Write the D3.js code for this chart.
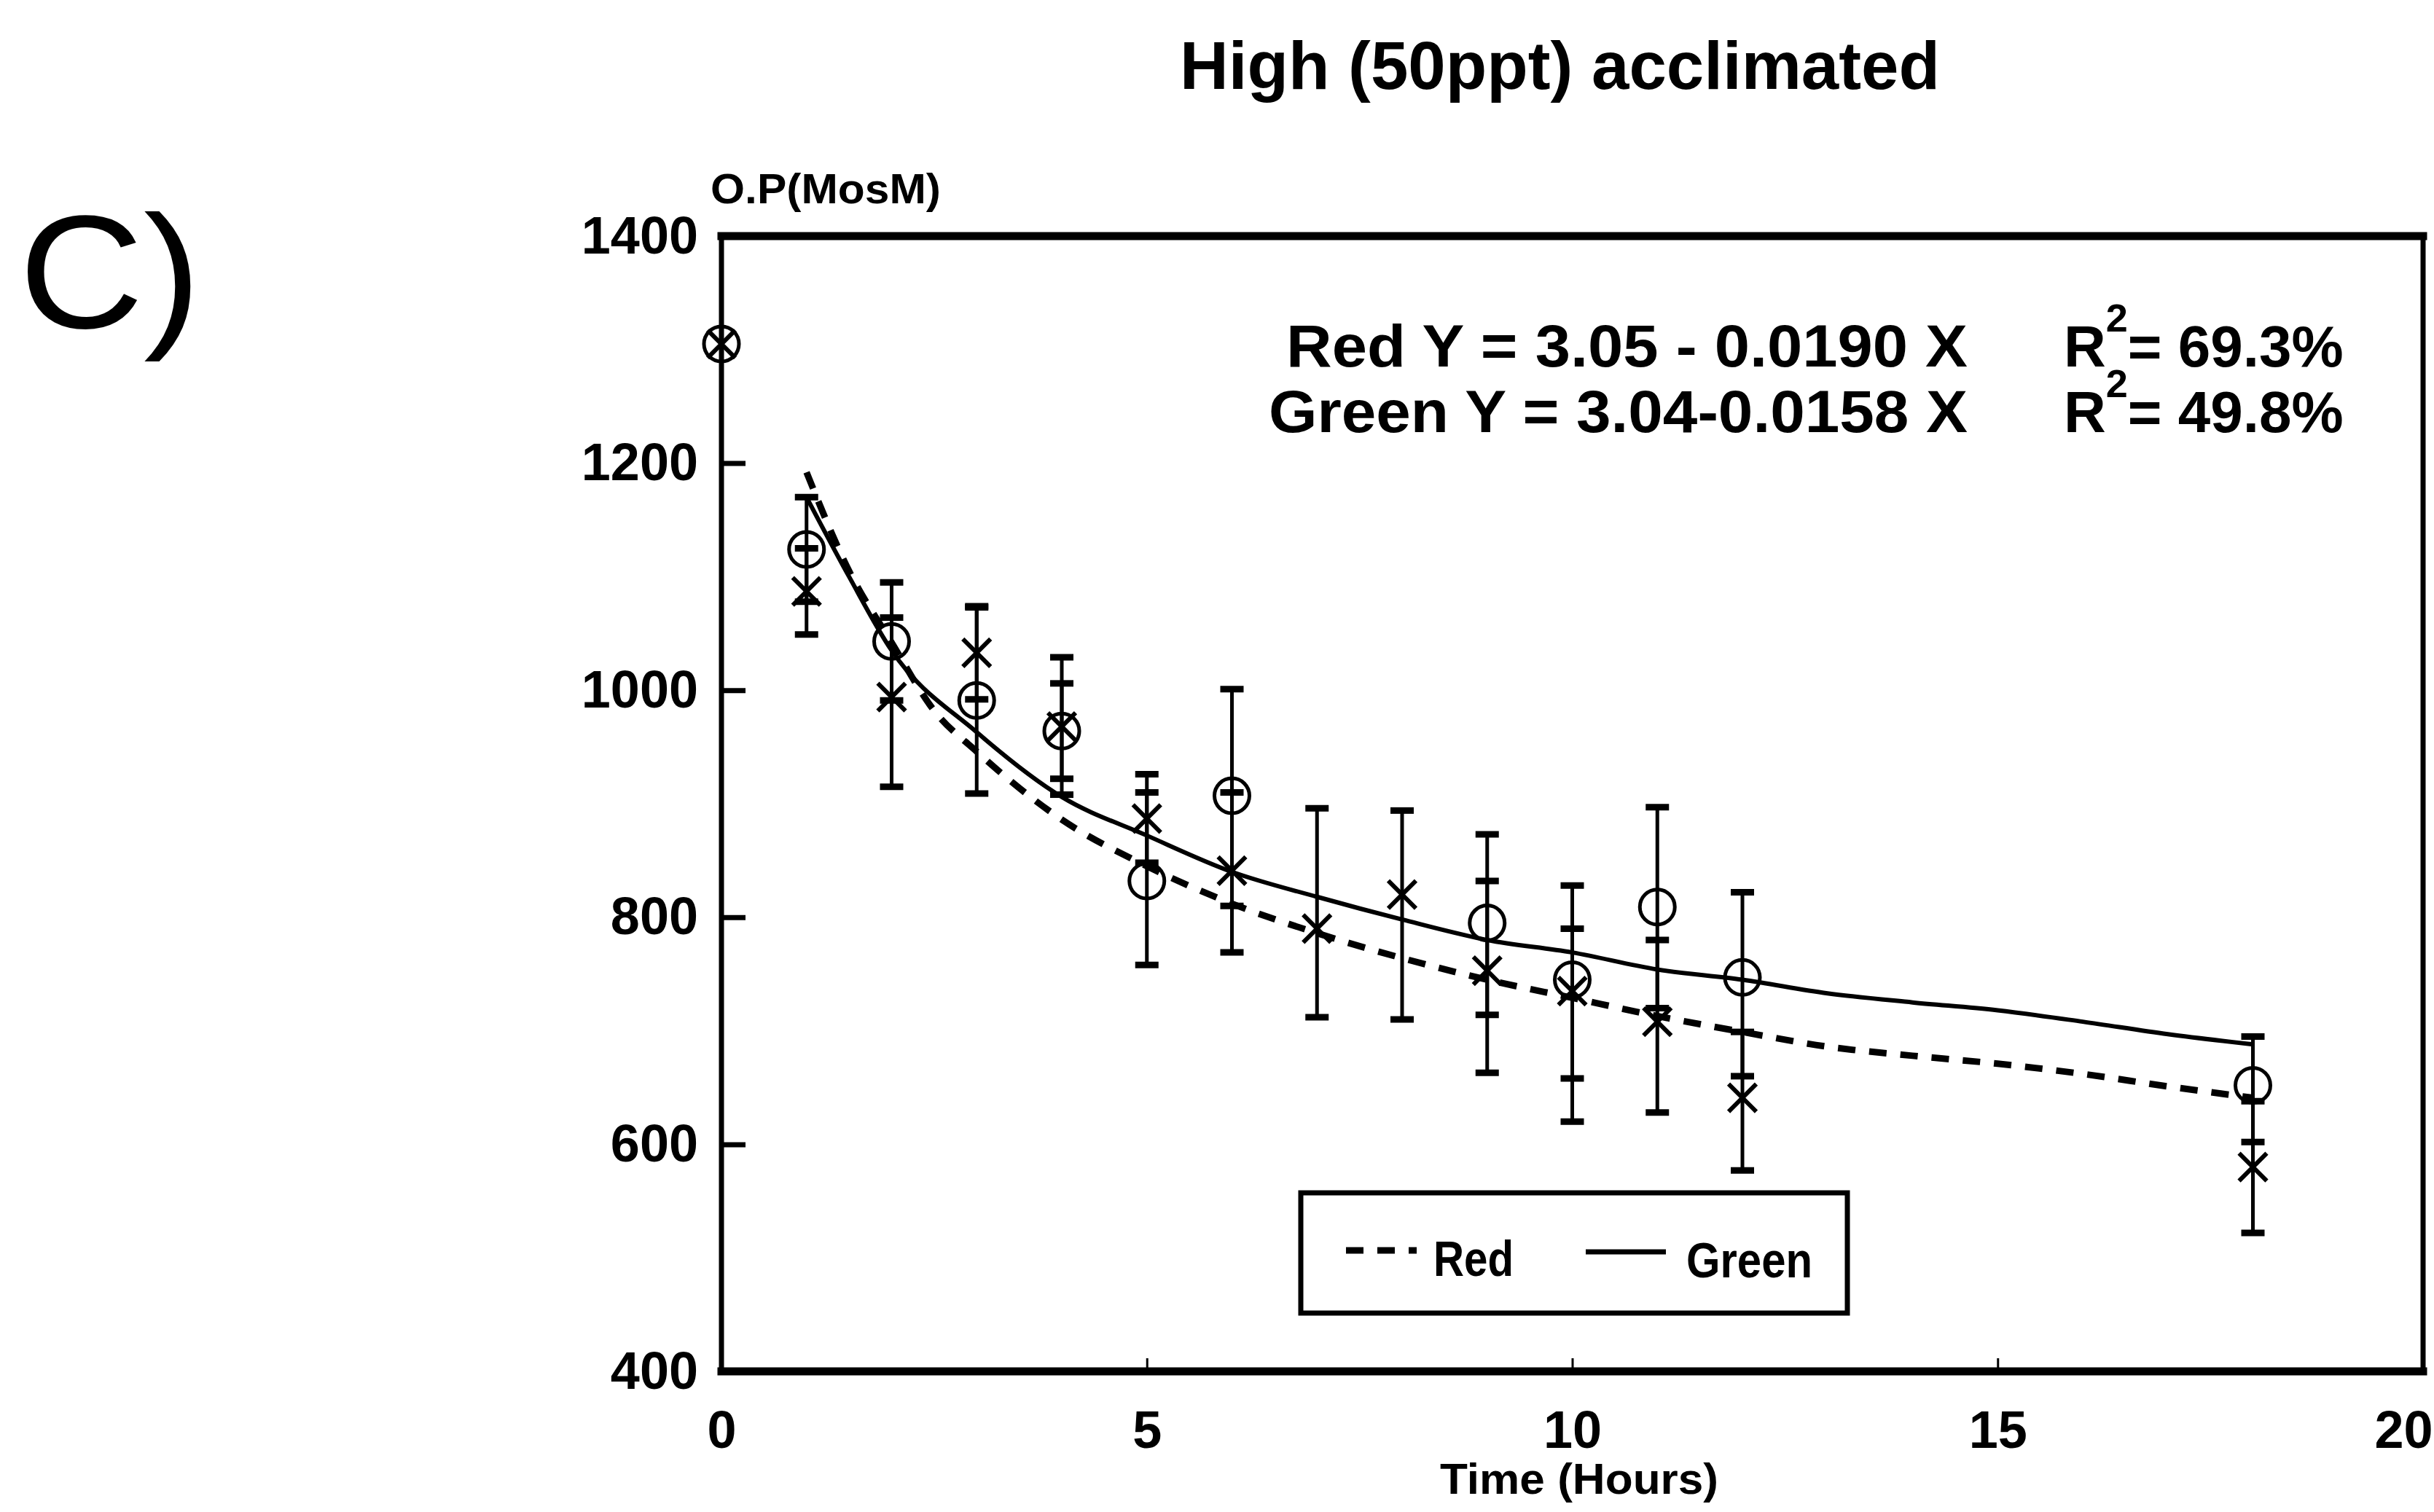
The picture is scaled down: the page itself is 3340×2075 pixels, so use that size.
<!DOCTYPE html>
<html>
<head>
<meta charset="utf-8">
<script src="https://cdn.jsdelivr.net/npm/d3@7/dist/d3.min.js"></script>
<style>
  html, body { margin: 0; padding: 0; background: #fff; }
  svg { display: block; }
  text { font-family: "Liberation Sans", Arial, Helvetica, sans-serif; fill: #000; }
</style>
</head>
<body>
<svg id="chart" width="3340" height="2075"></svg>
<script>
// Sampling times (hours)
const hours = [0, 1, 2, 3, 4, 5, 6, 7, 8, 9, 10, 11, 12, 18];

// Red group: mean osmotic pressure (mOsm) with error-bar limits
const redMean = [1305, 1087, 994, 1033, 968, 887, 841, 790, 820, 753, 735, 708, 641, 580];
const redLow  = [null, 1049, 915, 992, 908, 848, 769, 712, 710, 663, 620, 628, 577, 522];
const redHigh = [null, 1125, 1064, 1074, 1029, 926, 910, 896, 894, 832, 790, 780, 699, 638];

// Green group: mean osmotic pressure (mOsm) with error-bar limits
const greenMean = [1305, 1124, 1043, 991, 964, 832, 907, null, null, 795, 745, 809, 747, 652];
const greenLow  = [null, 1078, 991, 909, 922, 758, 810, null, null, 714, 658, 720, 660, 602];
const greenHigh = [null, 1170, 1095, 1073, 1006, 910, 1001, null, null, 873, 828, 897, 822, 695];

// Fitted regression curves
const redFitX   = [1, 1.5, 2, 2.5, 3, 4, 5, 6, 7, 8, 9, 10, 11, 12, 13, 14, 15, 16, 17, 18];
const redFitY   = [1192, 1105, 1042, 982, 946, 886, 845, 812, 786, 764, 745, 729, 713, 699, 686, 678, 671, 662, 651, 641];
const greenFitX = [1, 1.5, 2, 3, 4, 5, 6, 7, 8, 9, 10, 11, 12, 13, 14, 15, 16, 17, 18];
const greenFitY = [1170, 1100, 1035, 963, 906, 872, 840, 818, 798, 780, 769, 754, 745, 733, 725, 718, 708, 697, 688];

// Axis ticks
const xTicks = [0, 5, 10, 15, 20];
const yTicks = [400, 600, 800, 1000, 1200, 1400];

const W = 3340;
const svg = d3.select("#chart");
svg.append("rect").attr("width", W).attr("height", 2075).attr("fill", "#fff");

const x = d3.scaleLinear().domain([0, 20]).range([990, 3325]);
const y = d3.scaleLinear().domain([400, 1400]).range([1882, 324]);

// Panel letter and title
svg.append("text").attr("x", 26).attr("y", 450)
  .attr("font-size", 220).attr("font-weight", 400)
  .attr("textLength", 250).attr("lengthAdjust", "spacingAndGlyphs").text("C)");
svg.append("text").attr("x", 1619).attr("y", 122)
  .attr("font-size", 92).attr("font-weight", 700)
  .attr("textLength", 1043).attr("lengthAdjust", "spacingAndGlyphs")
  .text("High (50ppt) acclimated");

// Y axis label
svg.append("text").attr("x", 975).attr("y", 279)
  .attr("font-size", 58).attr("font-weight", 700)
  .attr("textLength", 316).attr("lengthAdjust", "spacingAndGlyphs")
  .text("O.P(MosM)");

// Axes
const yAxis = d3.axisLeft(y).tickValues(yTicks).tickFormat(d3.format("d"))
  .tickSizeInner(-33).tickSizeOuter(0).tickPadding(32);
const gy = svg.append("g").attr("transform", `translate(${x(0)},0)`).call(yAxis);
gy.select(".domain").remove();
gy.selectAll(".tick line").attr("stroke", "#000").attr("stroke-width", 7);
gy.selectAll(".tick text").attr("font-size", 72).attr("font-weight", 700)
  .attr("font-family", "Liberation Sans, Arial, sans-serif").attr("fill", "#000");

const xAxis = d3.axisBottom(x).tickValues(xTicks).tickFormat(d3.format("d"))
  .tickSizeInner(-18).tickSizeOuter(0).tickPadding(54);
const gx = svg.append("g").attr("transform", `translate(0,${y(400)})`).call(xAxis);
gx.select(".domain").remove();
gx.selectAll(".tick line").attr("stroke", "#000").attr("stroke-width", 3);
gx.selectAll(".tick text").attr("font-size", 72).attr("font-weight", 700)
  .attr("font-family", "Liberation Sans, Arial, sans-serif").attr("fill", "#000");
// keep the last tick label inside the page edge
gx.selectAll(".tick").filter(d => d === 20).select("text")
  .attr("text-anchor", "end").attr("x", W - 2 - x(20));

svg.append("text").attr("x", 2167).attr("y", 2050).attr("text-anchor", "middle")
  .attr("font-size", 60).attr("font-weight", 700)
  .attr("textLength", 382).attr("lengthAdjust", "spacingAndGlyphs")
  .text("Time (Hours)");

// Plot frame
const frame = svg.append("g").attr("stroke", "#000").attr("stroke-linecap", "square");
frame.append("line").attr("x1", x(0)).attr("x2", x(20)).attr("y1", y(1400)).attr("y2", y(1400)).attr("stroke-width", 11);
frame.append("line").attr("x1", x(0)).attr("x2", x(20)).attr("y1", y(400)).attr("y2", y(400)).attr("stroke-width", 11);
frame.append("line").attr("x1", x(0)).attr("x2", x(0)).attr("y1", y(1400)).attr("y2", y(400)).attr("stroke-width", 7);
frame.append("line").attr("x1", x(20)).attr("x2", x(20)).attr("y1", y(1400)).attr("y2", y(400)).attr("stroke-width", 7);

// Fitted curves
const line = d3.line().curve(d3.curveMonotoneX).x(d => x(d[0])).y(d => y(d[1]));
svg.append("path").datum(greenFitX.map((v, i) => [v, greenFitY[i]]))
  .attr("d", line).attr("fill", "none").attr("stroke", "#000").attr("stroke-width", 6);
svg.append("path").datum(redFitX.map((v, i) => [v, redFitY[i]]))
  .attr("d", line).attr("fill", "none").attr("stroke", "#000").attr("stroke-width", 9)
  .attr("stroke-dasharray", "24 19");

// Error bars
function errorBars(low, high) {
  const rows = hours.map((h, i) => ({ h, lo: low[i], hi: high[i] })).filter(d => d.lo != null);
  const g = svg.append("g").attr("stroke", "#000");
  g.selectAll("line.bar").data(rows).join("line").attr("class", "bar")
    .attr("x1", d => x(d.h)).attr("x2", d => x(d.h))
    .attr("y1", d => y(d.lo)).attr("y2", d => y(d.hi)).attr("stroke-width", 5);
  const caps = rows.flatMap(d => [{ h: d.h, v: d.lo }, { h: d.h, v: d.hi }]);
  g.selectAll("line.cap").data(caps).join("line").attr("class", "cap")
    .attr("x1", d => x(d.h) - 16).attr("x2", d => x(d.h) + 16)
    .attr("y1", d => y(d.v)).attr("y2", d => y(d.v)).attr("stroke-width", 9);
}
errorBars(greenLow, greenHigh);
errorBars(redLow, redHigh);

// Green means: open circles
const greenPts = hours.map((h, i) => ({ h, v: greenMean[i] })).filter(d => d.v != null);
svg.append("g").selectAll("circle").data(greenPts).join("circle")
  .attr("cx", d => x(d.h)).attr("cy", d => y(d.v)).attr("r", 24)
  .attr("fill", "none").attr("stroke", "#000").attr("stroke-width", 5);

// Red means: crosses
const redPts = hours.map((h, i) => ({ h, v: redMean[i] })).filter(d => d.v != null);
const s = 19;
svg.append("g").selectAll("path").data(redPts).join("path")
  .attr("d", d => {
    const cx = x(d.h), cy = y(d.v);
    return `M${cx - s},${cy - s}L${cx + s},${cy + s}M${cx - s},${cy + s}L${cx + s},${cy - s}`;
  })
  .attr("fill", "none").attr("stroke", "#000").attr("stroke-width", 6);

// Regression equations
const eq = svg.append("g").attr("font-weight", 700).attr("font-size", 82);
eq.append("text").attr("x", 1765).attr("y", 503)
  .attr("textLength", 935).attr("lengthAdjust", "spacingAndGlyphs")
  .text("Red Y = 3.05 - 0.0190 X");
eq.append("text").attr("x", 1741).attr("y", 593)
  .attr("textLength", 959).attr("lengthAdjust", "spacingAndGlyphs")
  .text("Green Y = 3.04-0.0158 X");

function rsq(yBase, value) {
  const t = eq.append("text").attr("x", 2832).attr("y", yBase).attr("font-size", 80);
  t.append("tspan").text("R");
  t.append("tspan").attr("font-size", 54).attr("dy", -48).text("2");
  t.append("tspan").attr("dy", 48).text("= " + value);
}
rsq(503, "69.3%");
rsq(593, "49.8%");

// Legend
const lg = svg.append("g");
lg.append("rect").attr("x", 1785).attr("y", 1637).attr("width", 750).attr("height", 165)
  .attr("fill", "#fff").attr("stroke", "#000").attr("stroke-width", 7);
lg.append("line").attr("x1", 1847).attr("x2", 1944).attr("y1", 1716).attr("y2", 1716)
  .attr("stroke", "#000").attr("stroke-width", 9).attr("stroke-dasharray", "24 19");
lg.append("text").attr("x", 1967).attr("y", 1751).attr("font-size", 68).attr("font-weight", 700)
  .attr("textLength", 110).attr("lengthAdjust", "spacingAndGlyphs").text("Red");
lg.append("line").attr("x1", 2176).attr("x2", 2286).attr("y1", 1718).attr("y2", 1718)
  .attr("stroke", "#000").attr("stroke-width", 7);
lg.append("text").attr("x", 2314).attr("y", 1753).attr("font-size", 68).attr("font-weight", 700)
  .attr("textLength", 173).attr("lengthAdjust", "spacingAndGlyphs").text("Green");
</script>
</body>
</html>
